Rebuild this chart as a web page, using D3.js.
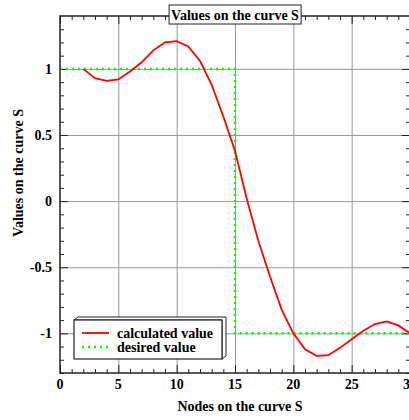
<!DOCTYPE html>
<html>
<head>
<meta charset="UTF-8">
<title>Values on the curve S</title>
<script src="https://cdn.jsdelivr.net/npm/d3@7"></script>
<style>
    body { margin: 0; padding: 0; background: #fff; overflow: hidden; }
    text { font-family: "Liberation Serif", "DejaVu Serif", serif; font-weight: bold; }
    .grid line { stroke: #9a9a9a; stroke-width: 1; }
    .grid path { display: none; }
    .ax path { display: none; }
    .ax line { stroke: #222; stroke-width: 1; }
</style>
</head>
<body>
<div id="chart"></div>
<script>
    // nodes on the curve and the calculated values at them
    const nodes = [2, 3, 4, 5, 6, 7, 8, 9, 10, 11, 12, 13, 14, 15, 16,
        17, 18, 19, 20, 21, 22, 23, 24, 25, 26, 27, 28, 29, 30];
    const calculated = [1.00, 0.93, 0.91, 0.92, 0.98, 1.05, 1.14, 1.20, 1.21, 1.17, 1.06, 0.88, 0.64, 0.38, 0.02,
        -0.30, -0.57, -0.82, -1.00, -1.12, -1.17, -1.165, -1.11, -1.045, -0.98, -0.93, -0.91, -0.94, -1.00];

    // desired (target) step
    const desiredX = [0, 15, 15, 30];
    const desiredY = [1, 1, -1, -1];

    const xTicks = [0, 5, 10, 15, 20, 25, 30];
    const yTicks = [-1, -0.5, 0, 0.5, 1];

    const W = 409, H = 420;
    const margin = {top: 16, right: -1, bottom: 47, left: 60};
    const plotW = W - margin.left - margin.right,
        plotH = H - margin.top - margin.bottom;
    const fs = 14;

    const svg = d3.select("#chart").append("svg")
        .attr("width", W)
        .attr("height", H);

    const x = d3.scaleLinear().domain([0, 30]).range([margin.left, margin.left + plotW]);
    const y = d3.scaleLinear().domain([-1.3, 1.4]).range([margin.top + plotH, margin.top]);

    // grid
    svg.append("g").attr("class", "grid")
        .attr("transform", "translate(0," + (margin.top + plotH) + ")")
        .call(d3.axisBottom(x).tickValues(xTicks.slice(1, -1)).tickSize(-plotH).tickFormat(""));
    svg.append("g").attr("class", "grid")
        .attr("transform", "translate(" + margin.left + ",0)")
        .call(d3.axisLeft(y).tickValues(yTicks).tickSize(-plotW).tickFormat(""));

    // minor tick values
    const xMinor = d3.range(0, 31).filter(v => v % 5 !== 0);
    const yMinor = d3.range(-13, 14).map(v => v / 10).filter(v => Math.abs(v * 10) % 5 !== 0);

    function ticks(axisFn, scale, vals, size, tr) {
        svg.append("g").attr("class", "ax")
            .attr("transform", tr)
            .call(axisFn(scale).tickValues(vals).tickSize(size).tickFormat(""));
    }
    const bottomT = "translate(0," + (margin.top + plotH) + ")";
    const topT = "translate(0," + margin.top + ")";
    const leftT = "translate(" + margin.left + ",0)";
    const rightT = "translate(" + (margin.left + plotW) + ",0)";
    ticks(d3.axisBottom, x, xTicks, -8, bottomT);
    ticks(d3.axisBottom, x, xMinor, -4, bottomT);
    ticks(d3.axisTop, x, xTicks, -8, topT);
    ticks(d3.axisTop, x, xMinor, -4, topT);
    ticks(d3.axisLeft, y, yTicks, -8, leftT);
    ticks(d3.axisLeft, y, yMinor, -4, leftT);
    ticks(d3.axisRight, y, yTicks, -8, rightT);
    ticks(d3.axisRight, y, yMinor, -4, rightT);

    // tick labels
    svg.append("g").selectAll("text")
        .data(xTicks)
        .join("text")
        .attr("x", d => x(d))
        .attr("y", margin.top + plotH + 16)
        .attr("text-anchor", "middle")
        .attr("font-size", fs)
        .text(d => d);
    svg.append("g").selectAll("text")
        .data(yTicks)
        .join("text")
        .attr("x", margin.left - 8)
        .attr("y", d => y(d) + 5)
        .attr("text-anchor", "end")
        .attr("font-size", fs)
        .text(d => d);

    // desired value
    const line = d3.line().x(d => x(d[0])).y(d => y(d[1]));
    svg.append("path")
        .attr("d", line(desiredX.map((v, i) => [v, desiredY[i]])))
        .attr("fill", "none")
        .attr("stroke", "#00ff00")
        .attr("stroke-width", 2.5)
        .attr("stroke-dasharray", "2,4");

    // calculated value
    svg.append("path")
        .attr("d", line(nodes.map((v, i) => [v, calculated[i]])))
        .attr("fill", "none")
        .attr("stroke", "#ff0000")
        .attr("stroke-width", 1.8);

    // frame
    svg.append("rect")
        .attr("x", margin.left)
        .attr("y", margin.top)
        .attr("width", plotW)
        .attr("height", plotH)
        .attr("fill", "none")
        .attr("stroke", "#222")
        .attr("stroke-width", 1.5);

    // title in a box
    const titleBox = svg.append("rect");
    const title = svg.append("text")
        .attr("x", 235)
        .attr("y", 20)
        .attr("text-anchor", "middle")
        .attr("font-size", fs)
        .text("Values on the curve S");
    const tb = title.node().getBBox();
    titleBox
        .attr("x", tb.x - 2)
        .attr("y", 5)
        .attr("width", tb.width + 4)
        .attr("height", 19)
        .attr("fill", "#fff")
        .attr("stroke", "#222")
        .attr("stroke-width", 1);

    // axis labels
    svg.append("text")
        .attr("x", 240)
        .attr("y", 411)
        .attr("text-anchor", "middle")
        .attr("font-size", fs)
        .text("Nodes on the curve S");
    svg.append("text")
        .attr("transform", "translate(23,173) rotate(-90)")
        .attr("text-anchor", "middle")
        .attr("font-size", fs)
        .text("Values on the curve S");

    // legend with 3d box
    const lg = {x: 74, y: 320, w: 148, h: 39, dx: 4, dy: -3};
    const legend = svg.append("g");
    legend.append("path")
        .attr("d", "M" + lg.x + "," + lg.y + "l" + lg.dx + "," + lg.dy + "h" + lg.w +
            "v" + lg.h + "l" + (-lg.dx) + "," + (-lg.dy) + "v" + (-lg.h) + "z")
        .attr("fill", "#fff")
        .attr("stroke", "#222")
        .attr("stroke-width", 1);
    legend.append("rect")
        .attr("x", lg.x).attr("y", lg.y)
        .attr("width", lg.w).attr("height", lg.h)
        .attr("fill", "#fff")
        .attr("stroke", "#222")
        .attr("stroke-width", 1.2);
    const items = [
        {label: "calculated value", color: "#ff0000", dash: null},
        {label: "desired value", color: "#00ff00", dash: "2,4"}
    ];
    items.forEach((it, i) => {
        const yy = lg.y + 13 + i * 14;
        legend.append("line")
            .attr("x1", lg.x + 8).attr("x2", lg.x + 35)
            .attr("y1", yy).attr("y2", yy)
            .attr("stroke", it.color)
            .attr("stroke-width", it.dash ? 2.5 : 1.8)
            .attr("stroke-dasharray", it.dash);
        legend.append("text")
            .attr("x", lg.x + 43)
            .attr("y", yy + 5)
            .attr("font-size", fs)
            .text(it.label);
    });
</script>
</body>
</html>
